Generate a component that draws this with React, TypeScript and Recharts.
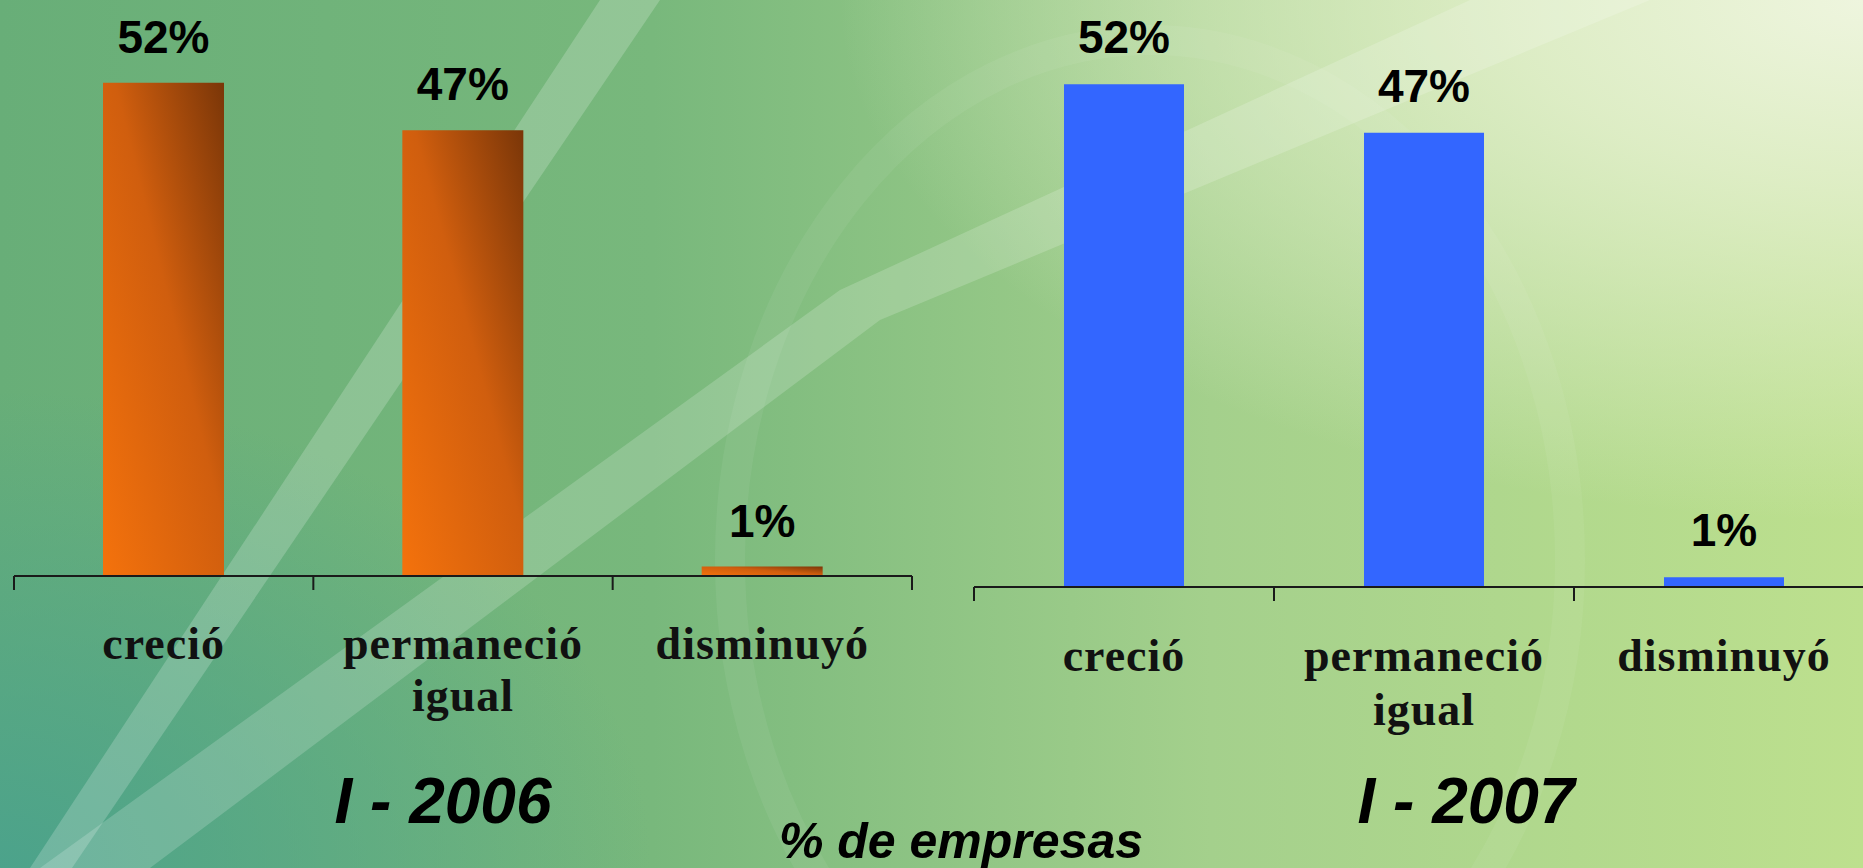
import { BarChart, Bar, XAxis, YAxis, LabelList } from "recharts";

const categorias = ["creció", "permaneció igual", "disminuyó"];
const valores2006 = [52, 47, 1];
const valores2007 = [52, 47, 1];
const titulo2006 = "I - 2006";
const titulo2007 = "I - 2007";
const pie = "% de empresas";

const datos2006 = categorias.map((c, i) => ({ cat: c, valor: valores2006[i] }));
const datos2007 = categorias.map((c, i) => ({ cat: c, valor: valores2007[i] }));

const BAND_L = 898 / categorias.length;
const BAND_R = 900 / categorias.length;

function makeTick(band: number, dy1: number, dy2: number) {
  return (props: any) => {
    const { x, y, payload, index } = props;
    const words = String(payload.value).split(" ");
    const last = index === categorias.length - 1;
    return (
      <g>
        <line x1={x - band / 2} y1={y} x2={x - band / 2} y2={y + 14} stroke="#1a1a1a" strokeWidth={2} />
        {last && <line x1={x + band / 2} y1={y} x2={x + band / 2} y2={y + 14} stroke="#1a1a1a" strokeWidth={2} />}
        <text
          textAnchor="middle"
          fontFamily="'Liberation Serif', 'Times New Roman', serif"
          fontWeight="bold"
          fontSize={46}
          letterSpacing={1}
          fill="#111"
        >
          {words.map((w, i) => (
            <tspan key={i} x={x} y={y + (i === 0 ? dy1 : dy2)}>
              {w}
            </tspan>
          ))}
        </text>
      </g>
    );
  };
}

const labelStyle = {
  fontFamily: "'Liberation Sans', Arial, sans-serif",
  fontWeight: "bold" as const,
  fontSize: 46,
};

export default function App() {
  return (
    <div
      style={{
        position: "absolute",
        left: 0,
        top: 0,
        width: 1863,
        height: 868,
        overflow: "hidden",
        background:
          "radial-gradient(ellipse 55% 60% at 100% 0%, rgba(238,245,222,1) 0%, rgba(228,240,206,0.85) 35%, rgba(228,240,206,0) 100%)," +
          "radial-gradient(ellipse 35% 55% at 0% 100%, rgba(74,162,140,0.95) 0%, rgba(74,162,140,0) 100%)," +
          "linear-gradient(to right, #68ae78 0%, #78b87c 35%, #a4d08c 65%, #bde08e 100%)",
      }}
    >
      <svg width={1863} height={868} style={{ position: "absolute", left: 0, top: 0 }}>
        <polygon points="30,868 72,868 660,0 600,0" fill="#ffffff" opacity={0.2} />
        <polygon points="40,868 150,868 880,320 1650,0 1470,0 840,290" fill="#ffffff" opacity={0.18} />
        <ellipse cx={1150} cy={560} rx={420} ry={520} fill="none" stroke="#ffffff" strokeOpacity={0.06} strokeWidth={30} />
      </svg>

      <div style={{ position: "absolute", left: 0, top: 0 }}>
        <BarChart width={940} height={868} data={datos2006} margin={{ top: 7, left: 14, right: 28, bottom: 148 }}>
          <defs>
            <linearGradient id="naranja" x1="0" y1="1" x2="1" y2="0">
              <stop offset="0%" stopColor="#f4720c" />
              <stop offset="55%" stopColor="#d05e0e" />
              <stop offset="100%" stopColor="#7a3608" />
            </linearGradient>
          </defs>
          <YAxis hide domain={[0, 60]} />
          <XAxis
            dataKey="cat"
            height={144}
            tickSize={0}
            tickMargin={0}
            tickLine={false}
            axisLine={{ stroke: "#1a1a1a", strokeWidth: 2 }}
            tick={makeTick(BAND_L, 83, 135)}
            interval={0}
          />
          <Bar dataKey="valor" fill="url(#naranja)" barSize={121} isAnimationActive={false}>
            <LabelList dataKey="valor" position="top" offset={30} fill="#000" style={labelStyle} formatter={(v: any) => `${v}%`} />
          </Bar>
        </BarChart>
      </div>

      <div style={{ position: "absolute", left: 960, top: 0 }}>
        <BarChart width={916} height={868} data={datos2007} margin={{ top: 7, left: 14, right: 2, bottom: 137 }}>
          <YAxis hide domain={[0, 60]} />
          <XAxis
            dataKey="cat"
            height={144}
            tickSize={0}
            tickMargin={0}
            tickLine={false}
            axisLine={{ stroke: "#1a1a1a", strokeWidth: 2 }}
            tick={makeTick(BAND_R, 84, 138)}
            interval={0}
          />
          <Bar dataKey="valor" fill="#3366ff" barSize={120} isAnimationActive={false}>
            <LabelList dataKey="valor" position="top" offset={31} fill="#000" style={labelStyle} formatter={(v: any) => `${v}%`} />
          </Bar>
        </BarChart>
      </div>

      <div style={{ position: "absolute", left: 243, top: 769, width: 400, textAlign: "center", font: "italic bold 64px/64px 'Liberation Sans', Arial, sans-serif", color: "#000" }}>
        {titulo2006}
      </div>
      <div style={{ position: "absolute", left: 1266, top: 769, width: 400, textAlign: "center", font: "italic bold 64px/64px 'Liberation Sans', Arial, sans-serif", color: "#000" }}>
        {titulo2007}
      </div>
      <div style={{ position: "absolute", left: 711, top: 821, width: 500, textAlign: "center", font: "italic bold 50px/40px 'Liberation Sans', Arial, sans-serif", color: "#000" }}>
        {pie}
      </div>
    </div>
  );
}
